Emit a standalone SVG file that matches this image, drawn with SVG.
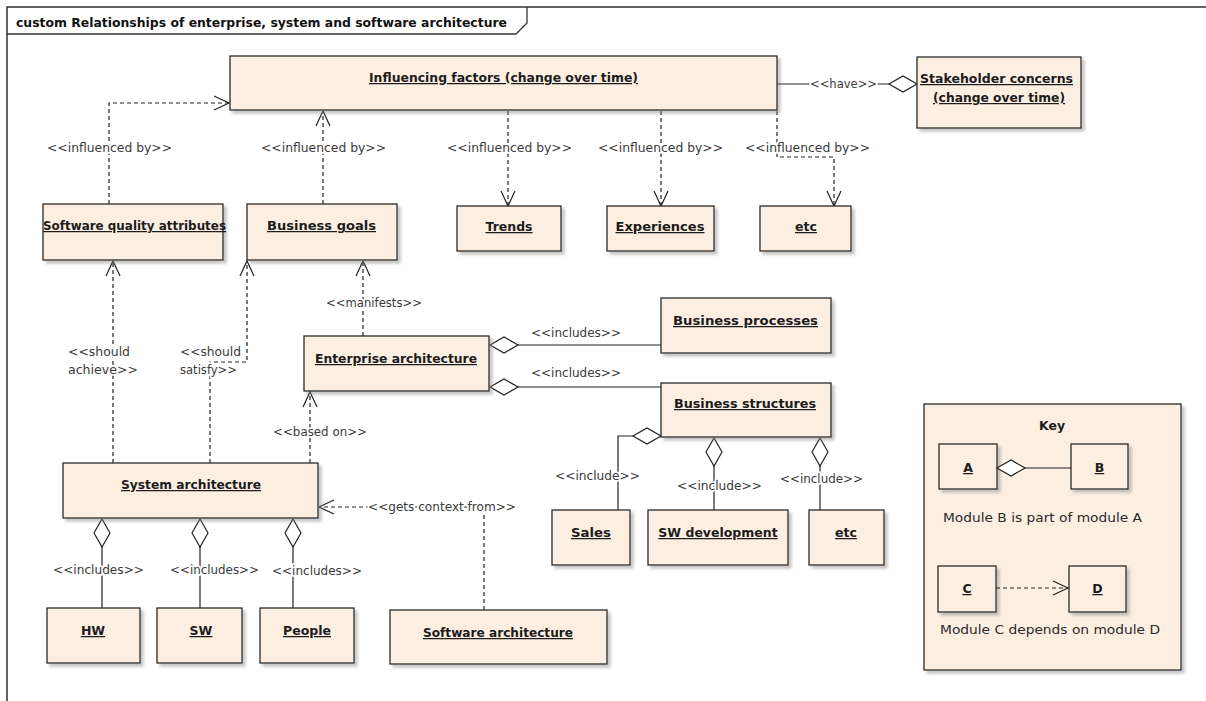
<svg xmlns="http://www.w3.org/2000/svg" width="1206" height="701" viewBox="0 0 1206 701">
<style>
.box{fill:#FCEFE2;stroke:#2a2a2a;stroke-width:1.3;filter:url(#sh)}
.n{font-family:"DejaVu Sans","Liberation Sans",sans-serif;font-weight:bold;font-size:12.5px;fill:#1c1c1c;text-anchor:middle;text-decoration:underline}
.k{font-family:"DejaVu Sans","Liberation Sans",sans-serif;font-size:12px;fill:#2a2a2a}
.l{font-family:"DejaVu Sans","Liberation Sans",sans-serif;font-size:12px;fill:#3a3a3a;stroke:#fff;stroke-width:3.5;stroke-linejoin:round;paint-order:stroke}
.c{fill:none;stroke:#222;stroke-width:1.2}
.d{stroke-dasharray:4 3}
.dep{marker-end:url(#arr)}
.agg{marker-start:url(#dia)}
.title{font-family:"DejaVu Sans","Liberation Sans",sans-serif;font-weight:bold;font-size:12px;fill:#111}
</style>
<defs>
<filter id="sh" x="-10%" y="-10%" width="130%" height="140%">
<feDropShadow dx="3" dy="3" stdDeviation="1.5" flood-color="#888" flood-opacity="0.5"/>
</filter>
<marker id="arr" markerUnits="userSpaceOnUse" markerWidth="18" markerHeight="18" refX="15" refY="7" orient="auto" overflow="visible">
<path d="M0,0 L15,7 L0,14" fill="none" stroke="#222" stroke-width="1.2"/>
</marker>
<marker id="dia" markerUnits="userSpaceOnUse" markerWidth="30" markerHeight="18" refX="0" refY="8" orient="auto" overflow="visible">
<path d="M0,8 L14,0 L28,8 L14,16 Z" fill="#fff" stroke="#222" stroke-width="1.2"/>
</marker>
</defs>

<g id="frame">
<path d="M7,701 V7 H1206" fill="none" stroke="#333" stroke-width="1.5"/>
<path d="M7,34 H516 L527,23 V7" fill="none" stroke="#333" stroke-width="1.3"/>
<text class="title" x="16" y="27" textLength="491" lengthAdjust="spacingAndGlyphs">custom Relationships of enterprise, system and software architecture</text>
</g>

<g id="connectors">
<path class="c d dep" d="M109,204 V103 H229"/>
<path class="c d dep" d="M323,204 V111"/>
<path class="c d dep" d="M508,111 V206"/>
<path class="c d dep" d="M661,111 V206"/>
<path class="c d dep" d="M777,111 V157 H834 V206"/>
<path class="c agg" d="M917,84 H777"/>
<path class="c d dep" d="M363,336 V261"/>
<path class="c agg" d="M490,345 H661"/>
<path class="c agg" d="M490,387 H661"/>
<path class="c d dep" d="M113,463 V261"/>
<path class="c d dep" d="M210,463 V362 H247 V261"/>
<path class="c d dep" d="M310,463 V392"/>
<path class="c d dep" d="M484,610 V507 H319"/>
<path class="c agg" d="M102,519 V608"/>
<path class="c agg" d="M200,519 V608"/>
<path class="c agg" d="M293,519 V608"/>
<path class="c agg" d="M661,436 H618 V510"/>
<path class="c agg" d="M714,438 V510"/>
<path class="c agg" d="M820,438 V510"/>

<text class="l" x="810" y="88" textLength="67" lengthAdjust="spacingAndGlyphs">&lt;&lt;have&gt;&gt;</text>
<text class="l" x="47" y="152" textLength="125" lengthAdjust="spacingAndGlyphs">&lt;&lt;influenced by&gt;&gt;</text>
<text class="l" x="261" y="152" textLength="125" lengthAdjust="spacingAndGlyphs">&lt;&lt;influenced by&gt;&gt;</text>
<text class="l" x="447" y="152" textLength="125" lengthAdjust="spacingAndGlyphs">&lt;&lt;influenced by&gt;&gt;</text>
<text class="l" x="598" y="152" textLength="125" lengthAdjust="spacingAndGlyphs">&lt;&lt;influenced by&gt;&gt;</text>
<text class="l" x="745" y="152" textLength="125" lengthAdjust="spacingAndGlyphs">&lt;&lt;influenced by&gt;&gt;</text>
<text class="l" x="326" y="307" textLength="96" lengthAdjust="spacingAndGlyphs">&lt;&lt;manifests&gt;&gt;</text>
<text class="l" x="531" y="337" textLength="90" lengthAdjust="spacingAndGlyphs">&lt;&lt;includes&gt;&gt;</text>
<text class="l" x="531" y="377" textLength="90" lengthAdjust="spacingAndGlyphs">&lt;&lt;includes&gt;&gt;</text>
<text class="l" x="68" y="356" textLength="62" lengthAdjust="spacingAndGlyphs">&lt;&lt;should</text>
<text class="l" x="68" y="374" textLength="70" lengthAdjust="spacingAndGlyphs">achieve&gt;&gt;</text>
<text class="l" x="180" y="356" textLength="61" lengthAdjust="spacingAndGlyphs">&lt;&lt;should</text>
<text class="l" x="180" y="374" textLength="57" lengthAdjust="spacingAndGlyphs">satisfy&gt;&gt;</text>
<text class="l" x="273" y="436" textLength="94" lengthAdjust="spacingAndGlyphs">&lt;&lt;based on&gt;&gt;</text>
<text class="l" x="368" y="511" textLength="148" lengthAdjust="spacingAndGlyphs">&lt;&lt;gets context from&gt;&gt;</text>
<text class="l" x="53" y="574" textLength="91" lengthAdjust="spacingAndGlyphs">&lt;&lt;includes&gt;&gt;</text>
<text class="l" x="170" y="574" textLength="89" lengthAdjust="spacingAndGlyphs">&lt;&lt;includes&gt;&gt;</text>
<text class="l" x="272" y="575" textLength="90" lengthAdjust="spacingAndGlyphs">&lt;&lt;includes&gt;&gt;</text>
<text class="l" x="555" y="480" textLength="85" lengthAdjust="spacingAndGlyphs">&lt;&lt;include&gt;&gt;</text>
<text class="l" x="677" y="490" textLength="85" lengthAdjust="spacingAndGlyphs">&lt;&lt;include&gt;&gt;</text>
<text class="l" x="780" y="483" textLength="83" lengthAdjust="spacingAndGlyphs">&lt;&lt;include&gt;&gt;</text>
</g>

<g id="influencing-factors"><rect class="box" x="230" y="56" width="547" height="54"/><text class="n" x="503.5" y="82" textLength="269" lengthAdjust="spacingAndGlyphs">Influencing factors (change over time)</text></g>
<g id="stakeholder-concerns"><rect class="box" x="917" y="57" width="164" height="71"/><text class="n" x="996.5" y="83" textLength="153" lengthAdjust="spacingAndGlyphs">Stakeholder concerns</text><text class="n" x="999" y="102" textLength="132" lengthAdjust="spacingAndGlyphs">(change over time)</text></g>
<g id="software-quality-attributes"><rect class="box" x="43" y="204" width="180" height="56"/><text class="n" x="134.5" y="230" textLength="183" lengthAdjust="spacingAndGlyphs">Software quality attributes</text></g>
<g id="business-goals"><rect class="box" x="247" y="204" width="150" height="56"/><text class="n" x="321.5" y="230" textLength="109" lengthAdjust="spacingAndGlyphs">Business goals</text></g>
<g id="trends"><rect class="box" x="457" y="206" width="104" height="45"/><text class="n" x="509" y="231" textLength="47" lengthAdjust="spacingAndGlyphs">Trends</text></g>
<g id="experiences"><rect class="box" x="607" y="206" width="107" height="45"/><text class="n" x="660" y="231" textLength="89" lengthAdjust="spacingAndGlyphs">Experiences</text></g>
<g id="etc-top"><rect class="box" x="760" y="206" width="91" height="45"/><text class="n" x="806" y="231">etc</text></g>
<g id="enterprise-architecture"><rect class="box" x="304" y="336" width="185" height="55"/><text class="n" x="396" y="363" textLength="162" lengthAdjust="spacingAndGlyphs">Enterprise architecture</text></g>
<g id="business-processes"><rect class="box" x="661" y="298" width="170" height="55"/><text class="n" x="745.5" y="325" textLength="145" lengthAdjust="spacingAndGlyphs">Business processes</text></g>
<g id="business-structures"><rect class="box" x="661" y="383" width="170" height="54"/><text class="n" x="745" y="408" textLength="142" lengthAdjust="spacingAndGlyphs">Business structures</text></g>
<g id="system-architecture"><rect class="box" x="63" y="463" width="255" height="55"/><text class="n" x="191" y="489" textLength="140" lengthAdjust="spacingAndGlyphs">System architecture</text></g>
<g id="hw"><rect class="box" x="47" y="608" width="93" height="55"/><text class="n" x="93" y="635">HW</text></g>
<g id="sw"><rect class="box" x="157" y="608" width="85" height="55"/><text class="n" x="201" y="635">SW</text></g>
<g id="people"><rect class="box" x="260" y="608" width="94" height="55"/><text class="n" x="307" y="635" textLength="48" lengthAdjust="spacingAndGlyphs">People</text></g>
<g id="software-architecture"><rect class="box" x="390" y="610" width="217" height="54"/><text class="n" x="498" y="637" textLength="150" lengthAdjust="spacingAndGlyphs">Software architecture</text></g>
<g id="sales"><rect class="box" x="552" y="510" width="78" height="55"/><text class="n" x="591" y="537" textLength="40" lengthAdjust="spacingAndGlyphs">Sales</text></g>
<g id="sw-development"><rect class="box" x="648" y="510" width="140" height="55"/><text class="n" x="718" y="537">SW development</text></g>
<g id="etc-bottom"><rect class="box" x="809" y="510" width="75" height="55"/><text class="n" x="846" y="537">etc</text></g>

<g id="key">
<rect class="box" x="924" y="404" width="257" height="266"/>
<text class="n" x="1052" y="430" style="text-decoration:none">Key</text>
<g id="key-a"><rect class="box" x="939" y="444" width="58" height="45"/><text class="n" x="968" y="472">A</text></g>
<g id="key-b"><rect class="box" x="1071" y="444" width="57" height="45"/><text class="n" x="1099.5" y="472">B</text></g>
<text class="k" x="943" y="522" textLength="199" lengthAdjust="spacingAndGlyphs">Module B is part of module A</text>
<g id="key-c"><rect class="box" x="938" y="566" width="58" height="46"/><text class="n" x="967" y="593">C</text></g>
<g id="key-d"><rect class="box" x="1069" y="566" width="57" height="46"/><text class="n" x="1097.5" y="593">D</text></g>
<text class="k" x="940" y="634" textLength="220" lengthAdjust="spacingAndGlyphs">Module C depends on module D</text>
<path class="c agg" d="M997,468 H1071"/>
<path class="c d dep" d="M996,588 H1068"/>
</g>
</svg>
